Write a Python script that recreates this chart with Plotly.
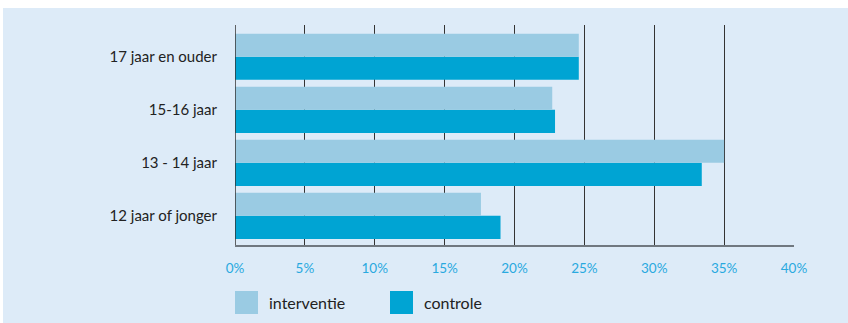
import plotly.graph_objects as go

categories = ["12 jaar of jonger", "13 - 14 jaar", "15-16 jaar", "17 jaar en ouder"]
interventie = [17.6, 35.0, 22.7, 24.6]
controle = [19.0, 33.4, 22.9, 24.6]
tick_vals = [0, 5, 10, 15, 20, 25, 30, 35, 40]
tick_text = ["0%", "5%", "10%", "15%", "20%", "25%", "30%", "35%", "40%"]
series_names = ["interventie", "controle"]
series_colors = ["#9ACBE3", "#00A4D3"]

BG = "#DDEBF8"
W, H = 848, 323
L, R, T, B = 235, 794, 25, 245

fig = go.Figure()
fig.add_trace(go.Bar(y=categories, x=controle, orientation="h", name=series_names[1],
                     marker=dict(color=series_colors[1], line=dict(width=0)), showlegend=False))
fig.add_trace(go.Bar(y=categories, x=interventie, orientation="h", name=series_names[0],
                     marker=dict(color=series_colors[0], line=dict(width=0)), showlegend=False))

def px2x(px):
    return (px - L) / (R - L)

def py2y(py):
    return (B - py) / (B - T)

shapes = [
    dict(type="rect", xref="paper", yref="paper", x0=px2x(3), x1=px2x(W + 5),
         y0=py2y(8), y1=py2y(H + 5), fillcolor=BG, line=dict(width=0), layer="below"),
]
annotations = []
leg = [(235, series_names[0], series_colors[0]), (390, series_names[1], series_colors[1])]
for xpx, name, col in leg:
    shapes.append(dict(type="rect", xref="paper", yref="paper", x0=px2x(xpx), x1=px2x(xpx + 23),
                       y0=py2y(314), y1=py2y(291), fillcolor=col, line=dict(width=0)))
    annotations.append(dict(xref="paper", yref="paper", x=px2x(xpx + 32), y=py2y(302.5),
                            text=name, showarrow=False, xanchor="left", yanchor="middle",
                            font=dict(family="Lato, sans-serif", size=16, color="#222222")))

fig.update_layout(
    width=W, height=H,
    margin=dict(l=L, r=W - R, t=T, b=H - B, autoexpand=False),
    paper_bgcolor="white",
    plot_bgcolor="rgba(0,0,0,0)",
    barmode="group", bargap=0.13, bargroupgap=0,
    shapes=shapes, annotations=annotations,
    xaxis=dict(range=[0, 40], tickvals=tick_vals, ticktext=tick_text,
               showgrid=True, gridcolor="#333333", gridwidth=1,
               zeroline=False, showline=True, linecolor="#707880", linewidth=2,
               tickfont=dict(family="Lato, sans-serif", size=13.5, color="#29A9DF"),
               ticks="", ticklen=0, ticklabelstandoff=10, fixedrange=True),
    yaxis=dict(range=[-0.55, 3.6], showgrid=False, zeroline=False,
               showline=False,
               tickfont=dict(family="Lato, sans-serif", size=15, color="#222222"),
               ticks="", ticklabelstandoff=17, fixedrange=True),
    font=dict(family="Lato, sans-serif"),
)
fig.add_shape(type="line", xref="x", yref="paper", x0=0, x1=0, y0=0, y1=1,
              line=dict(color="#333333", width=1.5))

fig.write_html("out.html")
